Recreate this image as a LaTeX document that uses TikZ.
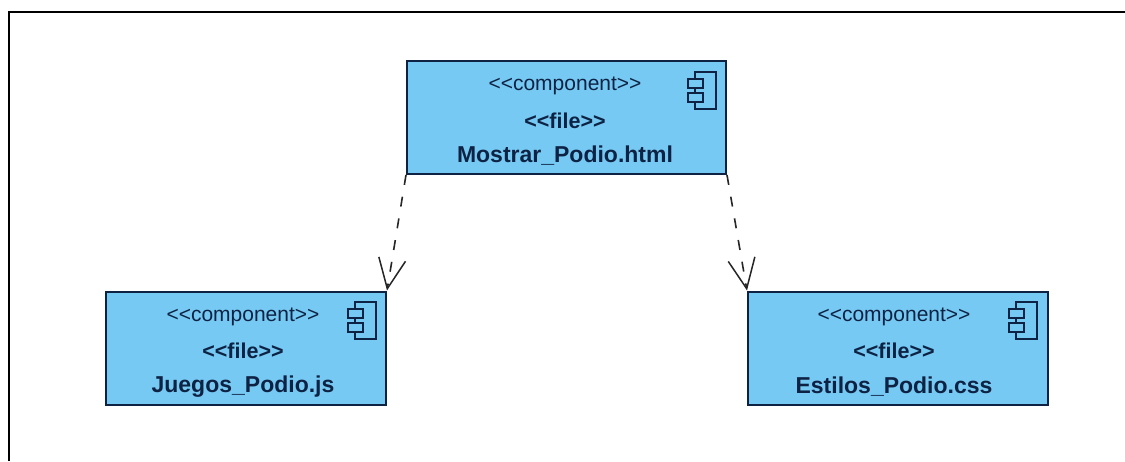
\documentclass[tikz,border=0pt]{standalone}
\usepackage{fontspec}
\setmainfont{Liberation Sans}
\usetikzlibrary{arrows.meta}
\definecolor{boxfill}{HTML}{76C9F3}
\definecolor{ink}{HTML}{0E2344}
\tikzset{
  x=1pt,y=-1pt,
  comp/.style={draw=ink,line width=2pt,fill=boxfill,minimum width=#1,minimum height=113pt,inner sep=0pt,anchor=north west},
  stereo/.style={text=ink,font=\fontsize{21}{24}\selectfont,inner sep=0pt},
  filelabel/.style={text=ink,font=\fontsize{21.5}{24}\selectfont\bfseries,inner sep=0pt},
  namelabel/.style={text=ink,font=\fontsize{23}{26}\selectfont\bfseries,inner sep=0pt},
  iconline/.style={draw=ink,line width=1.4pt,fill=boxfill},
  dep/.style={draw=black!85,line width=1.6pt,dash pattern=on 10pt off 12pt,-{Straight Barb[length=30pt,width=27pt,line width=1.5pt]}},
}
\newcommand{\compicon}[2]{%
  \draw[iconline] (#1+7,#2) rectangle (#1+28,#2+37);
  \draw[iconline] (#1,#2+7) rectangle (#1+15,#2+16);
  \draw[iconline] (#1,#2+21) rectangle (#1+15,#2+30);
}
\begin{document}
\begin{tikzpicture}
\useasboundingbox (0,0) rectangle (1125,461);
\fill[white] (0,0) rectangle (1125,461);
\coordinate (frameTop) at (1125,12);
\coordinate (frameCorner) at (9,12);
\coordinate (frameBottom) at (9,461);
\draw[black,line width=1.8pt] (frameBottom) -- (frameCorner) -- (frameTop);

\node[comp=319pt] (main) at (406,60) {};
\node[comp=280pt] (left) at (105,290.5) {};
\node[comp=300pt] (right) at (747,290.5) {};

\compicon{688}{72}
\compicon{348}{302}
\compicon{1009}{302}

\node[stereo] (mainA) at (565,86) {<{}<component>{}>};
\node[filelabel] (mainB) at (565,121) {<{}<file>{}>};
\node[namelabel] (mainC) at (565,156) {Mostrar\_Podio.html};

\node[stereo] (leftA) at (243,317) {<{}<component>{}>};
\node[filelabel] (leftB) at (243,351) {<{}<file>{}>};
\node[namelabel] (leftC) at (243,387) {Juegos\_Podio.js};

\node[stereo] (rightA) at (894,317) {<{}<component>{}>};
\node[filelabel] (rightB) at (894,351) {<{}<file>{}>};
\node[namelabel] (rightC) at (894,387) {Estilos\_Podio.css};

\draw[dep] (main.south west) -- (left.north east);
\draw[dep] (main.south east) -- (right.north west);
\end{tikzpicture}
\end{document}
